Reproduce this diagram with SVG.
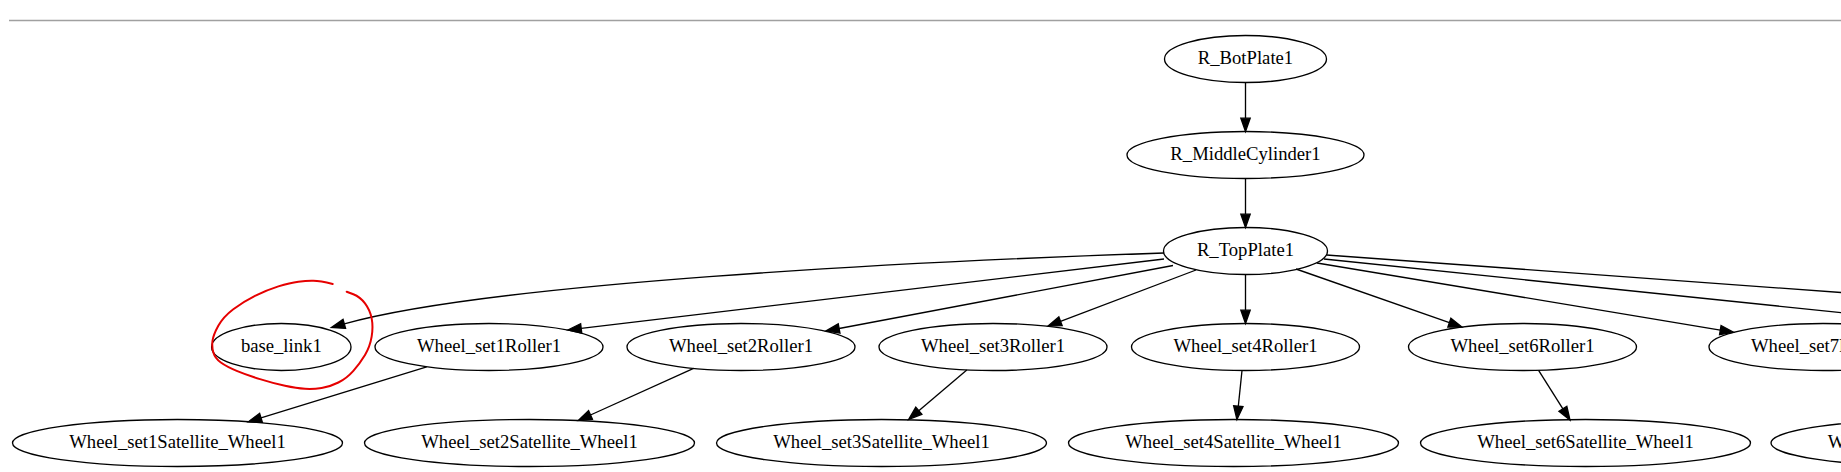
<svg xmlns="http://www.w3.org/2000/svg" width="1841" height="472" viewBox="0 0 1841 472">
<style>
.n ellipse{fill:none;stroke:#000;stroke-width:1.33}
.n text{font-family:"Liberation Serif","Times New Roman",serif;font-size:18.67px;text-anchor:middle;fill:#000}
#edges path{fill:none;stroke:#000;stroke-width:1.33;marker-end:url(#ah)}
#edges path.open{marker-end:none}
</style>
<defs>
<marker id="ah" markerUnits="userSpaceOnUse" markerWidth="14" markerHeight="10" refX="0" refY="5" orient="auto" viewBox="0 0 14 10" overflow="visible">
<path d="M0,0.33 L13.33,5 L0,9.67 z" fill="#000" stroke="#000" stroke-width="1.33"/>
</marker>
</defs>
<rect width="1841" height="472" fill="#fff"/>
<line x1="9" y1="20.5" x2="1841" y2="20.5" stroke="#a0a0a0" stroke-width="1.5"/>
<g id="edges">
<path d="M1245.5,82.5 L1245.5,118.2"/>
<path d="M1245.5,178.5 L1245.5,214.2"/>
<path d="M1164,253 C900,262 488.8,283.4 344.3,323.9"/>
<path d="M1164,259 C950,283 750,308 581.2,328.4"/>
<path d="M1173,265.5 L839.1,328.5"/>
<path d="M1196,270 L1060.5,321.3"/>
<path d="M1245.5,274.5 L1245.5,310.2"/>
<path d="M1296,269 L1449.4,322.6"/>
<path d="M1317,263 L1720.3,330.1"/>
<path class="open" d="M1326.5,255 L1900,296.8"/>
<path class="open" d="M1324,259 L1900,318.7"/>
<path d="M426.7,366.8 L261,417.9"/>
<path d="M693.6,368.4 L590.5,415"/>
<path d="M966.8,369.9 L918.8,410.7"/>
<path d="M1242,370.5 L1238.3,406.2"/>
<path d="M1538.6,370.3 L1562.9,408.8"/>
</g>
<g id="R_BotPlate1" class="n"><ellipse cx="1245.5" cy="59" rx="81" ry="23.5"/><text x="1245.5" y="64">R_BotPlate1</text></g>
<g id="R_MiddleCylinder1" class="n"><ellipse cx="1245.5" cy="155" rx="118.5" ry="23.5"/><text x="1245.5" y="160">R_MiddleCylinder1</text></g>
<g id="R_TopPlate1" class="n"><ellipse cx="1245.5" cy="251" rx="82" ry="23.5"/><text x="1245.5" y="256">R_TopPlate1</text></g>
<g id="base_link1" class="n"><ellipse cx="281.3" cy="347" rx="69.7" ry="23.5"/><text x="281.3" y="352">base_link1</text></g>
<g id="Wheel_set1Roller1" class="n"><ellipse cx="489" cy="347" rx="114" ry="23.5"/><text x="489" y="352">Wheel_set1Roller1</text></g>
<g id="Wheel_set2Roller1" class="n"><ellipse cx="741" cy="347" rx="114" ry="23.5"/><text x="741" y="352">Wheel_set2Roller1</text></g>
<g id="Wheel_set3Roller1" class="n"><ellipse cx="993" cy="347" rx="114" ry="23.5"/><text x="993" y="352">Wheel_set3Roller1</text></g>
<g id="Wheel_set4Roller1" class="n"><ellipse cx="1245.5" cy="347" rx="114" ry="23.5"/><text x="1245.5" y="352">Wheel_set4Roller1</text></g>
<g id="Wheel_set6Roller1" class="n"><ellipse cx="1522.5" cy="347" rx="114" ry="23.5"/><text x="1522.5" y="352">Wheel_set6Roller1</text></g>
<g id="Wheel_set7Roller1" class="n"><ellipse cx="1823" cy="347" rx="114" ry="23.5"/><text x="1823" y="352">Wheel_set7Roller1</text></g>
<g id="Wheel_set1Satellite_Wheel1" class="n"><ellipse cx="177.5" cy="443" rx="165" ry="23.5"/><text x="177.5" y="448">Wheel_set1Satellite_Wheel1</text></g>
<g id="Wheel_set2Satellite_Wheel1" class="n"><ellipse cx="529.5" cy="443" rx="165" ry="23.5"/><text x="529.5" y="448">Wheel_set2Satellite_Wheel1</text></g>
<g id="Wheel_set3Satellite_Wheel1" class="n"><ellipse cx="881.5" cy="443" rx="165" ry="23.5"/><text x="881.5" y="448">Wheel_set3Satellite_Wheel1</text></g>
<g id="Wheel_set4Satellite_Wheel1" class="n"><ellipse cx="1233.5" cy="443" rx="165" ry="23.5"/><text x="1233.5" y="448">Wheel_set4Satellite_Wheel1</text></g>
<g id="Wheel_set6Satellite_Wheel1" class="n"><ellipse cx="1585.5" cy="443" rx="165" ry="23.5"/><text x="1585.5" y="448">Wheel_set6Satellite_Wheel1</text></g>
<g id="Wheel_set7Satellite_Wheel1" class="n"><ellipse cx="1936" cy="443" rx="165" ry="23.5"/><text x="1936" y="448">Wheel_set7Satellite_Wheel1</text></g>
<path id="annotation" fill="none" stroke="#e60000" stroke-width="2" stroke-linecap="round" d="M332.7,284 Q320,281 313.35,280.85 Q306.7,280.7 298.35,281.7 Q290,282.7 278.35,286.35 Q266.7,290 255,295.85 Q243.3,301.7 233.3,309.2 Q223.3,316.7 218.3,325.85 Q213.3,335 212.5,340.85 Q211.7,346.7 213.35,352.5 Q215,358.3 220.85,362.5 Q226.7,366.7 236.7,370.85 Q246.7,375 260,379.15 Q273.3,383.3 285,385.8 Q296.7,388.3 305,388.8 Q313.3,389.3 321.65,388 Q330,386.7 338.35,382.5 Q346.7,378.3 353.35,370.8 Q360,363.3 365,355 Q370,346.7 371.65,336.7 Q373.3,326.7 371.65,318.35 Q370,310 365,303.35 Q360,296.7 353.35,294.2 L346.7,291.7"/>
</svg>
